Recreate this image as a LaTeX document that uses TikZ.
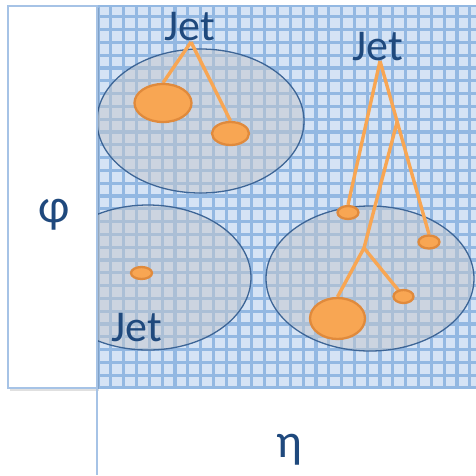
\documentclass[tikz,border=0pt]{standalone}
\usepackage{fontspec}
\setmainfont{Carlito}
\usetikzlibrary{shapes.geometric,calc}
\definecolor{cellfill}{HTML}{D5E3F5}
\definecolor{gridline}{HTML}{93B8E2}
\definecolor{boxline}{HTML}{A6C3E6}
\definecolor{jetblue}{HTML}{1F497D}
\definecolor{ellfill}{HTML}{C4C6CC}
\definecolor{ellline}{HTML}{3D6596}
\definecolor{blobfill}{HTML}{F8A653}
\definecolor{blobline}{HTML}{E08A3C}
\pgfdeclarelayer{back}
\pgfdeclarelayer{mid}
\pgfsetlayers{back,mid,main}
\tikzset{
  jetlabel/.style={text=jetblue, font=\fontsize{44}{48}\selectfont, inner sep=0pt, anchor=base},
  axislabel/.style={text=jetblue, font=\fontsize{48}{52}\selectfont, inner sep=0pt, anchor=base},
  blob/.style={ellipse, draw=blobline, fill=blobfill, line width=2.3pt, inner sep=0pt},
  branch/.style={draw=blobfill, line width=3.4pt},
  jetcone/.style={draw=ellline, fill=ellfill, fill opacity=0.5, line width=1.3pt},
  gridstroke/.style={draw=gridline, line width=3.2pt},
  panel/.style={draw=boxline, fill=white, line width=1.6pt},
}
\begin{document}
\begin{tikzpicture}[x=1pt,y=-1pt]
\useasboundingbox (0,0) rectangle (476,475);
\begin{pgfonlayer}{back}
  \fill[white] (0,0) rectangle (476,475);
  \fill[cellfill] (97,6) rectangle (476,388);
  \begin{scope}
    \clip (97,6) rectangle (476,388);
    \foreach \k in {0,...,29} \draw[gridstroke] ({98+12.82*\k},6) -- ({98+12.82*\k},388);
    \foreach \k in {0,...,29} \draw[gridstroke] (97,{16.7+12.8*\k}) -- (476,{16.7+12.8*\k});
  \end{scope}
  \draw[gridline, line width=1.2pt] (97,6) -- (476,6);
  \path[jetcone] (200.5,121) ellipse [x radius=103.5pt, y radius=72pt];
  \path[jetcone] (148,277.5) ellipse [x radius=103pt, y radius=72.5pt];
  \path[jetcone] (370,278.5) ellipse [x radius=104pt, y radius=72.5pt];
  \fill[black, opacity=0.12] (9.5,8) rectangle (99,390.5);
  \draw[panel] (8,6) rectangle (97,388);
  \draw[boxline, line width=2.2pt] (97,388) -- (97,475);
\end{pgfonlayer}

\node[axislabel] (phi) at (54,222) {φ};
\node[axislabel] (eta) at (289,457) {η};

\node[jetlabel] (jet1) at (190,40) {Jet};
\node[jetlabel] (jet2) at (377.5,60) {Jet};
\node[jetlabel] (jet3) at (136.5,341) {Jet};

\node[blob, minimum width=57pt, minimum height=38pt] (tl1) at (163,103) {};
\node[blob, minimum width=37pt, minimum height=23pt] (tl2) at (230.5,133.5) {};
\node[blob, minimum width=21pt, minimum height=12pt] (bl1) at (141.5,273) {};
\node[blob, minimum width=21pt, minimum height=13pt] (r1) at (348,212.5) {};
\node[blob, minimum width=21pt, minimum height=13pt] (r2) at (429,242) {};
\node[blob, minimum width=20pt, minimum height=13pt] (r3) at (403.5,296.5) {};
\node[blob, minimum width=55pt, minimum height=41pt] (r4) at (337.5,318.5) {};

\coordinate (apex1) at (191,42);
\coordinate (apex2) at (380,61);
\coordinate (br1) at ($(apex2)!0.35!(r2.north)$);
\coordinate (br2) at (364,248);

\begin{pgfonlayer}{mid}
  \draw[branch] (apex1) -- (tl1.north);
  \draw[branch] (apex1) -- (tl2.north);
  \draw[branch] (apex2) -- (r1.north);
  \draw[branch] (apex2) -- (r2.north);
  \draw[branch] (br1) -- (br2);
  \draw[branch] (br2) -- (r4.north);
  \draw[branch] (br2) -- (r3.center);
\end{pgfonlayer}
\end{tikzpicture}
\end{document}
